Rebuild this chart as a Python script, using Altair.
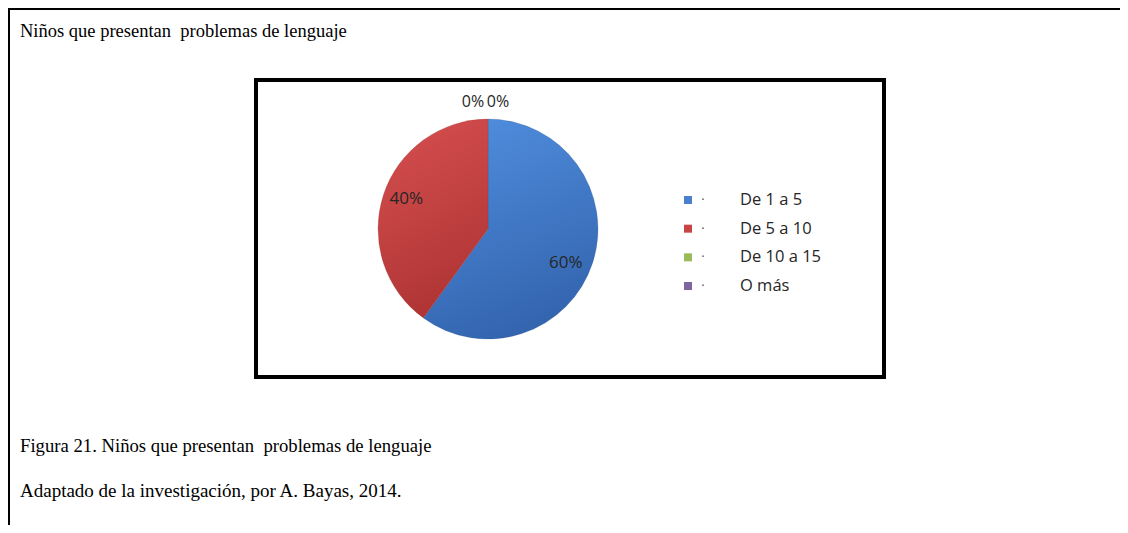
import altair as alt
import pandas as pd

# ---- data ----
categorias = ["De 1 a 5", "De 5 a 10", "De 10 a 15", "O más"]
porcentajes = [60, 40, 0, 0]
colores = ["#4A80CB", "#C94545", "#9BBB59", "#8064A2"]
degradados = [("#4F8CDC", "#3263AD"), ("#D44E4E", "#AE3333"), ("#AACC66", "#86A445"), ("#9077B5", "#6A4F8C")]
titulo = "Niños que presentan\u00a0 problemas de lenguaje"
pie_figura = "Figura 21. Niños que presentan\u00a0 problemas de lenguaje"
fuente = "Adaptado de la investigación, por A. Bayas, 2014."

df = pd.DataFrame({
    "categoria": categorias,
    "valor": porcentajes,
    "orden": list(range(len(categorias))),
    "etiqueta": [f"{v}%" for v in porcentajes],
})
uno = pd.DataFrame({"k": [0]})

W, H = 1112, 517
CX, CY, R = 480, 221, 110
SANS = "Open Sans"
SERIF = "Liberation Serif"
GRIS = "#262626"

color = alt.Color("categoria:N", scale=alt.Scale(domain=categorias, range=colores), legend=None)
escala_theta = alt.Scale(domain=[0, 100])

marco_sup = alt.Chart(uno).mark_rule(color="black", strokeWidth=2).encode(
    x=alt.value(0), x2=alt.value(W), y=alt.value(1))
marco_izq = alt.Chart(uno).mark_rule(color="black", strokeWidth=2).encode(
    x=alt.value(1), y=alt.value(0), y2=alt.value(H))
caja = alt.Chart(uno).mark_rect(fill="white", stroke="black", strokeWidth=4).encode(
    x=alt.value(248), x2=alt.value(876), y=alt.value(72), y2=alt.value(369))

# cumulative stack computed once, before any filtering
apilado = alt.Chart(df).transform_window(
    fin="sum(valor)", sort=[alt.SortField("orden")], frame=[None, 0]
).transform_calculate(
    inicio="datum.fin - datum.valor",
    medio="datum.fin - datum.valor / 2",
)


def rebanada(i):
    c1, c2 = degradados[i]
    grad = alt.LinearGradient(
        gradient="linear", x1=0.3, y1=0, x2=0.6, y2=1,
        stops=[alt.GradientStop(color=c1, offset=0), alt.GradientStop(color=c2, offset=1)])
    return apilado.transform_filter(f"datum.orden == {i}").mark_arc(
        radius=R, color=grad, stroke="#2F4F7F" if i == 0 else "#8A2E2E", strokeWidth=0.4,
        strokeOpacity=0.5
    ).encode(
        theta=alt.Theta("inicio:Q", scale=escala_theta),
        theta2="fin:Q", x=alt.value(CX), y=alt.value(CY))


def etiqueta(i, radio, dx, dy, size):
    return apilado.transform_filter(f"datum.orden == {i}").mark_text(
        radius=radio, dx=dx, dy=dy, font=SANS, fontSize=size, color=GRIS).encode(
        theta=alt.Theta("medio:Q", scale=escala_theta), text="etiqueta:N",
        x=alt.value(CX), y=alt.value(CY))


base = alt.Chart(df)
ypos = alt.Y("categoria:N", sort=categorias,
             scale=alt.Scale(domain=categorias, range=[192, 278], padding=0), axis=None)
ley_sq = base.mark_square(size=64, opacity=1).encode(x=alt.value(680), y=ypos, color=color)
ley_dot = base.mark_text(text="·", font=SANS, fontSize=13, color="#555555").encode(
    x=alt.value(695), y=ypos)
ley_txt = base.mark_text(align="left", font=SANS, fontSize=16.5, color=GRIS).encode(
    x=alt.value(732), y=ypos, text="categoria:N")


def texto(t, y, size):
    return alt.Chart(pd.DataFrame({"t": [t]})).mark_text(
        align="left", baseline="alphabetic", font=SERIF, fontSize=size, color="black").encode(
        x=alt.value(12), y=alt.value(y), text="t:N")


chart = alt.layer(
    marco_sup, marco_izq, caja, rebanada(0), rebanada(1),
    etiqueta(0, 86, -4, 7, 17), etiqueta(1, 86, 0, -3, 17),
    etiqueta(2, 127, -15, 0, 16), etiqueta(3, 127, 10, 0, 16),
    ley_sq, ley_dot, ley_txt,
    texto(titulo, 29, 18.5), texto(pie_figura, 444, 18.7), texto(fuente, 489, 19),
).properties(
    width=W, height=H, padding=0, autosize=alt.AutoSizeParams(type="none"),
    background="white",
).configure_view(strokeWidth=0)

chart.save("out.html", embed_options={"renderer": "svg", "actions": False})
